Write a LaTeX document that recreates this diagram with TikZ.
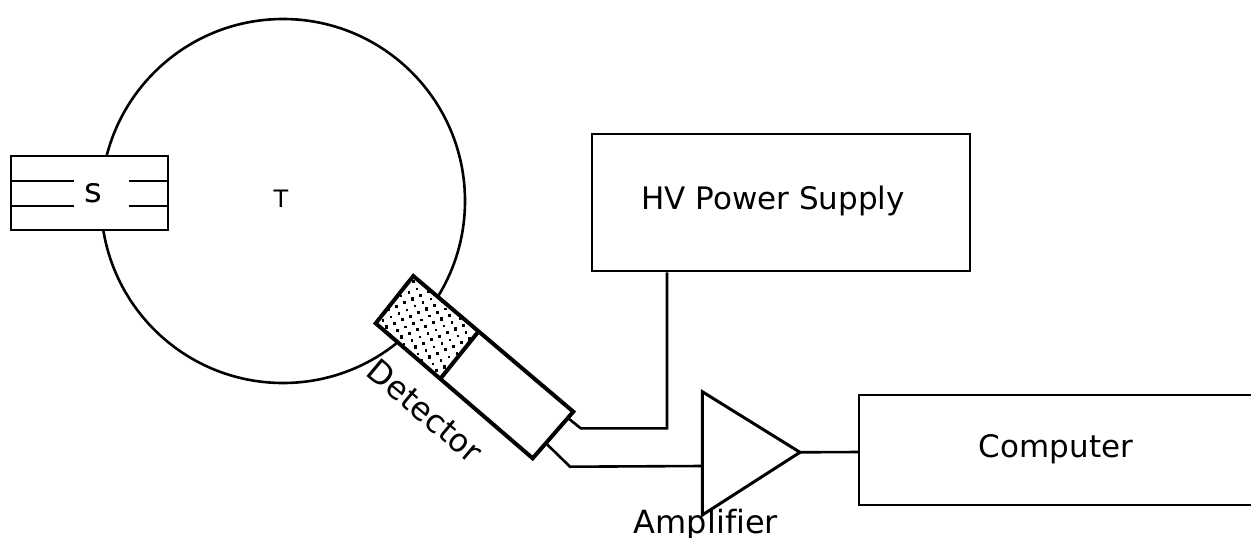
\documentclass[tikz,border=0pt]{standalone}
\usepackage{fontspec}
\setmainfont[Ligatures=NoCommon]{DejaVu Sans}
\tikzset{
  thinline/.style={draw=black,line width=2.6pt},
  thickline/.style={draw=black,line width=4pt,line join=miter},
  label/.style={font=\fontsize{31}{34}\selectfont,inner sep=0pt,text=black},
  smalllabel/.style={font=\fontsize{24}{28}\selectfont,inner sep=0pt,text=black},
  blockbox/.style={thinline,fill=white},
}
\begin{document}
\begin{tikzpicture}[x=1pt,y=-1pt]
\useasboundingbox (0,0) rectangle (1251,538);
% target sphere
\coordinate (tc) at (283,201);
\draw[thinline] (tc) circle[radius=182];
% source
\draw[thinline,fill=white] (11,156) rectangle (168,230);
\coordinate (sa) at (11,181); \coordinate (sb) at (74,181);
\coordinate (sc) at (129,181); \coordinate (sd) at (168,181);
\coordinate (se) at (11,206); \coordinate (sf) at (74,206);
\coordinate (sg) at (129,206); \coordinate (sh) at (168,206);
\draw[thinline] (sa)--(sb) (sc)--(sd) (se)--(sf) (sg)--(sh);
\node[label,font=\fontsize{34}{36}\selectfont] (s) at (93,193) {s};
\node[smalllabel] (t) at (281,199) {T};
% detector
\coordinate (d1) at (413.3,276);
\coordinate (d2) at (375.7,323.3);
\coordinate (d3) at (440.7,378.3);
\coordinate (d4) at (478.3,331.7);
\coordinate (d5) at (573.3,411.7);
\coordinate (d6) at (532.7,458.3);
\fill[white] (d1)--(d2)--(d6)--(d5)--cycle;
\begin{scope}
\clip (d1)--(d2)--(d3)--(d4)--cycle;
\foreach \i in {-8,...,10}{
  \foreach \j in {-6,...,24}{
    \pgfmathtruncatemacro{\big}{mod(abs(\i+\j),2)}
    \pgfmathsetmacro{\dotsz}{\big==0 ? 3.1 : 2.3}
    \fill[black] ({412.3+\i*11.2+\j*3.2},{283.3+\i*3.2+\j*6.8}) rectangle ++(\dotsz pt,\dotsz pt);
  }
}
\end{scope}
\draw[thickline] (d1)--(d2)--(d6)--(d5)--cycle;
\draw[thickline] (d3)--(d4);
% blocks
\node[blockbox,minimum width=378pt,minimum height=137pt,inner sep=0pt] (hv) at (781,202.5) {};
\node[label] (hvt) at (773,201) {HV Power Supply};
\coordinate (ampl) at (702.3,391.7);
\coordinate (ampb) at (702.3,515);
\coordinate (ampo) at (800,452.3);
\coordinate (ampi) at (702.3,466);
\draw[thinline,line width=3pt] (ampl)--(ampo)--(ampb)--cycle;
\coordinate (ct) at (859,395); \coordinate (cb) at (859,505);
\coordinate (ctr) at (1251,395); \coordinate (cbr) at (1251,505);
\coordinate (ci) at (859,452);
\draw[thinline] (ctr)--(ct)--(cb)--(cbr);
\node[label] (comp) at (1056,449) {Computer};
\node[label,anchor=base,font=\fontsize{32}{34}\selectfont] (amp) at (706,533) {Amplifier};
\node[label,rotate=-40,font=\fontsize{32}{34}\selectfont] (det) at (425,411) {Detector};
% wires
\coordinate (w1) at (568.3,418.3);
\coordinate (w2) at (580.7,428.3);
\coordinate (w3) at (667,428.3);
\coordinate (w4) at (546.7,444);
\coordinate (w5) at (570,466.7);
\draw[thinline] (w1)--(w2)--(w3)--(hv.south -| w3);
\draw[thinline] (w4)--(w5)--(ampi);
\draw[thinline] (ampo)--(ci);
\end{tikzpicture}
\end{document}
